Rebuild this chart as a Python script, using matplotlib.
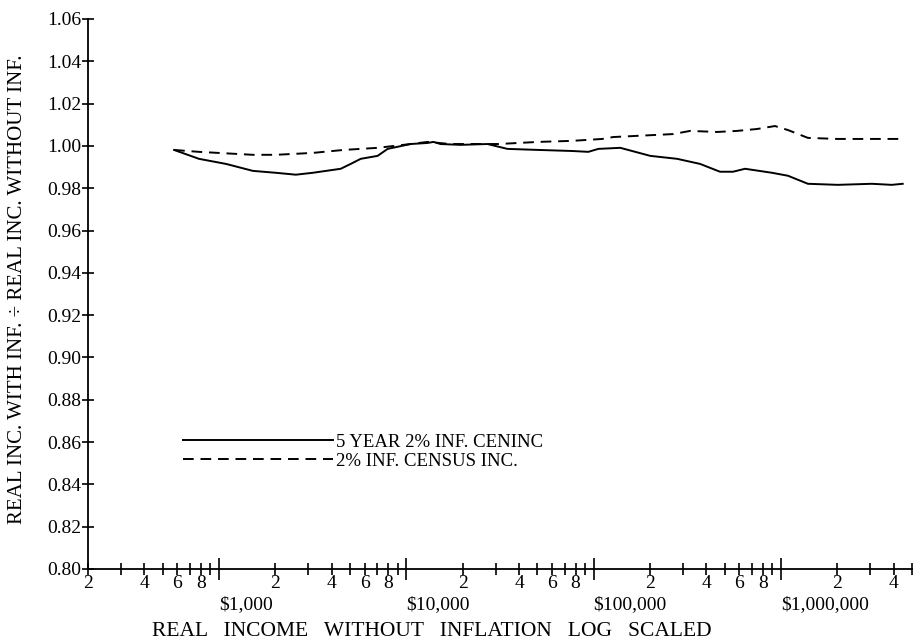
import matplotlib
matplotlib.use("Agg")
import matplotlib.pyplot as plt
import matplotlib.transforms as mtransforms
import numpy as np

plt.rcParams['font.family'] = ['Liberation Serif', 'DejaVu Serif']

# ---- data ----
solid_x = [576, 782, 1090, 1518, 2012, 2572, 3170, 4467, 5050, 5710, 7030, 7950,
           10540, 12980, 13970, 15230, 19450, 27100, 34650, 50700, 76900, 93600,
           105900, 138700, 200400, 278800, 369600, 472300, 554400, 642300, 895000,
           1089000, 1391000, 2010000, 3050000, 3900000, 4460000]
solid_y = [0.9981, 0.9939, 0.9915, 0.9882, 0.9873, 0.9864, 0.9873, 0.9892, 0.9915,
           0.9939, 0.9953, 0.9986, 1.0009, 1.0014, 1.0019, 1.0009, 1.0005, 1.0009,
           0.9986, 0.9981, 0.9976, 0.9972, 0.9986, 0.9991, 0.9953, 0.9939, 0.9915,
           0.9878, 0.9878, 0.9892, 0.9873, 0.9859, 0.9821, 0.9816, 0.9821, 0.9816,
           0.9821]

dash_x = [576, 782, 1518, 2012, 3170, 4620, 7030, 10540, 12980, 17200, 31000, 50700,
          76900, 111100, 127100, 265300, 327200, 455800, 582500, 744800, 928000,
          1089000, 1391000, 2010000, 4410000]
dash_y = [0.9981, 0.9972, 0.9958, 0.9958, 0.9967, 0.9981, 0.9991, 1.0009, 1.0019,
          1.0009, 1.0009, 1.0019, 1.0024, 1.0033, 1.0042, 1.0056, 1.0071, 1.0066,
          1.0071, 1.0080, 1.0094, 1.0075, 1.0038, 1.0033, 1.0033]

series_labels = ["5 YEAR 2% INF. CENINC", "2% INF. CENSUS INC."]
yticks = [0.80, 0.82, 0.84, 0.86, 0.88, 0.90, 0.92, 0.94, 0.96, 0.98, 1.00, 1.02, 1.04, 1.06]
decades = [1e3, 1e4, 1e5, 1e6]
decade_labels = ["$1,000", "$10,000", "$100,000", "$1,000,000"]
xlabel = "REAL   INCOME   WITHOUT   INFLATION   LOG   SCALED"
ylabel = "REAL INC. WITH INF. \u00f7 REAL INC. WITHOUT INF."

# ---- figure ----
fig = plt.figure(figsize=(9.17, 6.42), dpi=100)
ax = fig.add_axes([88/917, 1 - 569/642, (912-88)/917, (569-19)/642])

ax.plot(solid_x, solid_y, color='black', lw=1.4, label=series_labels[0])
ax.plot(dash_x, dash_y, color='black', lw=1.4, ls=(0, (5.5, 3.5)), label=series_labels[1])

ax.set_xscale('log')
ax.set_xlim(200, 5e6)
ax.set_ylim(0.80, 1.06)

for s in ['top', 'right']:
    ax.spines[s].set_visible(False)
for s in ['left', 'bottom']:
    ax.spines[s].set_linewidth(1.3)

ax.set_yticks(yticks)
ax.set_yticklabels([f"{v:.2f}" for v in yticks])
ax.tick_params(axis='y', direction='inout', length=8, width=1.2, labelsize=14, pad=1)

# x ticks
ax.set_xticks(decades)
ax.set_xticklabels([''] * len(decades))
minor = []
minor_lab = []
for k in range(2, 7):
    for m in range(2, 10):
        v = m * 10 ** k
        if 200 <= v <= 5e6:
            minor.append(v)
            minor_lab.append(str(m) if m in (2, 4, 6, 8) else '')
ax.set_xticks(minor, minor=True)
ax.set_xticklabels(minor_lab, minor=True)
ax.tick_params(axis='x', which='major', direction='inout', length=16, width=1.2)
ax.tick_params(axis='x', which='minor', direction='inout', length=9, width=1.2,
               labelsize=14, pad=0)

trans = mtransforms.blended_transform_factory(ax.transData, ax.transAxes)
for d, lab in zip(decades, decade_labels):
    ax.text(d, -0.049, lab, transform=trans, ha='left', va='top', fontsize=14)

fig.text(432/917, 1 - 631/642, xlabel, ha='center', va='center', fontsize=15.5)
fig.text(18/917, 1 - 289/642, ylabel, ha='center', va='center', rotation=90, fontsize=15)

ax.legend(loc='upper left', bbox_to_anchor=(0.115, 0.246), frameon=False,
          handlelength=8.0, handletextpad=0.15, borderpad=0, borderaxespad=0,
          labelspacing=0.1, fontsize=13.5)

fig.savefig('out.png', dpi=100)
